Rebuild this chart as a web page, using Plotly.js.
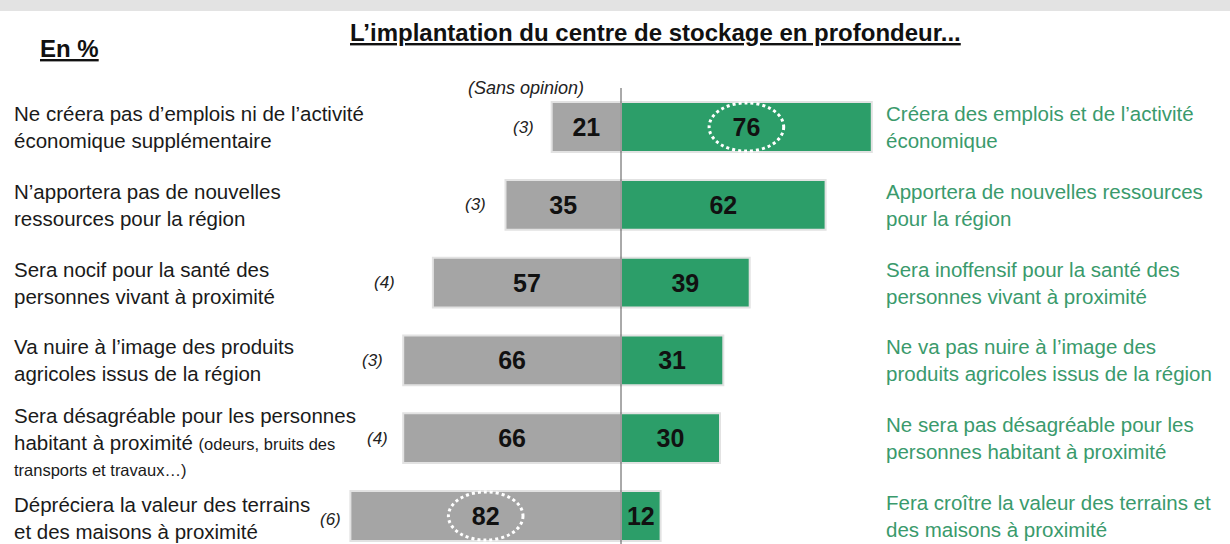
<!DOCTYPE html>
<html>
<head>
<meta charset="utf-8">
<script src="https://cdn.plot.ly/plotly-3.0.1.min.js"></script>
<style>html,body{margin:0;padding:0;background:#fff;}#chart{width:1230px;height:544px;}</style>
</head>
<body>
<div id="chart"></div>
<script>
// ---- Data ----
const negLabels = [
  "Ne créera pas d’emplois ni de l’activité<br>économique supplémentaire",
  "N’apportera pas de nouvelles<br>ressources pour la région",
  "Sera nocif pour la santé des<br>personnes vivant à proximité",
  "Va nuire à l’image des produits<br>agricoles issus de la région",
  "Sera désagréable pour les personnes<br>habitant à proximité <span style='font-size:16.5px'>(odeurs, bruits des</span><br><span style='font-size:16.5px'>transports et travaux…)</span>",
  "Dépréciera la valeur des terrains<br>et des maisons à proximité"
];
const posLabels = [
  "Créera des emplois et de l’activité<br>économique",
  "Apportera de nouvelles ressources<br>pour la région",
  "Sera inoffensif pour la santé des<br>personnes vivant à proximité",
  "Ne va pas nuire à l’image des<br>produits agricoles issus de la région",
  "Ne sera pas désagréable pour les<br>personnes habitant à proximité",
  "Fera croître la valeur des terrains et<br>des maisons à proximité"
];
const negValues = [21, 35, 57, 66, 66, 82];
const posValues = [76, 62, 39, 31, 30, 12];
const noOpinion = [3, 3, 4, 3, 4, 6];
const highlightPos = [0];   // dotted ellipse on green bar
const highlightNeg = [5];   // dotted ellipse on gray bar

// ---- Layout helpers ----
const rows = negValues.map((_, i) => i);
const FONT = "Liberation Sans, Arial, sans-serif";
const GREEN = "#2c9e69";
const GRAY = "#a5a5a5";
const TXTGREEN = "#3a9a6c";
const sansShift = [-28, -30, -48, -31, -26, -20];

const traces = [
  {
    type: "bar", orientation: "h",
    y: rows, x: negValues.map(v => -v), base: 0,
    width: 0.64,
    marker: {color: GRAY, line: {color: "#e2e2e2", width: 2}},
    text: negValues.map(String), textposition: "inside", insidetextanchor: "middle",
    textangle: 0, constraintext: "none",
    textfont: {family: FONT, size: 25, color: "#111", weight: "bold"},
    hoverinfo: "skip"
  },
  {
    type: "bar", orientation: "h",
    y: rows, x: posValues,
    width: 0.64,
    marker: {color: GREEN, line: {color: "#e2e2e2", width: 2}},
    text: posValues.map(String), textposition: "inside", insidetextanchor: "middle",
    textangle: 0, constraintext: "none",
    textfont: {family: FONT, size: 25, color: "#111", weight: "bold"},
    hoverinfo: "skip"
  }
];

const annotations = [];
rows.forEach(i => {
  annotations.push({
    xref: "paper", yref: "y", x: 12 / 1230, y: i + (i === 4 ? 0.04 : (i === 5 ? 0.03 : 0)),
    xanchor: "left", yanchor: "middle", align: "left", showarrow: false,
    text: negLabels[i], font: {family: FONT, size: 20.5, color: "#1a1a1a"}
  });
  annotations.push({
    xref: "paper", yref: "y", x: 884 / 1230, y: i,
    xanchor: "left", yanchor: "middle", align: "left", showarrow: false,
    text: posLabels[i], font: {family: FONT, size: 20.5, color: TXTGREEN}
  });
  annotations.push({
    xref: "x", yref: "y", x: -negValues[i], y: i + (i === 5 ? 0.05 : 0),
    xanchor: "center", yanchor: "middle", xshift: sansShift[i], showarrow: false,
    text: "<i>(" + noOpinion[i] + ")</i>", font: {family: FONT, size: 17, color: "#222"}
  });
});
annotations.push({
  xref: "x", yref: "y", x: 0, y: -0.5, xshift: -95, yshift: 0, xanchor: "center", yanchor: "middle",
  showarrow: false, text: "<i>(Sans opinion)</i>", font: {family: FONT, size: 18, color: "#222"}
});
annotations.push({
  xref: "paper", yref: "paper", x: 655 / 1230, y: 1 - 32 / 544, xanchor: "center", yanchor: "middle",
  showarrow: false, text: "<b><u>L’implantation du centre de stockage en profondeur...</u></b>",
  font: {family: FONT, size: 24, color: "#111"}
});
annotations.push({
  xref: "paper", yref: "paper", x: 38 / 1230, y: 1 - 48 / 544, xanchor: "left", yanchor: "middle",
  showarrow: false, text: "<b><u>En %</u></b>",
  font: {family: FONT, size: 24, color: "#111"}
});

const shapes = [
  {type: "rect", xref: "paper", yref: "paper", x0: 0, x1: 1, y0: 1 - 11 / 544, y1: 1,
   fillcolor: "#e3e3e3", line: {width: 0}, layer: "below"},
  {type: "line", xref: "x", yref: "paper", x0: 0, x1: 0, y0: 0, y1: 1 - 88 / 544,
   line: {color: "#555", width: 1}, layer: "above"}
];
highlightPos.forEach(i => {
  const c = posValues[i] / 2;
  shapes.push({type: "circle", xref: "x", yref: "y", x0: c - 11.3, x1: c + 11.3, y0: i - 0.31, y1: i + 0.31,
    line: {color: "#fff", width: 3, dash: "dot"}, layer: "above"});
});
highlightNeg.forEach(i => {
  const c = -negValues[i] / 2;
  shapes.push({type: "circle", xref: "x", yref: "y", x0: c - 11.3, x1: c + 11.3, y0: i - 0.31, y1: i + 0.31,
    line: {color: "#fff", width: 3, dash: "dot"}, layer: "above"});
});

const PX = 3.3;
const layout = {
  width: 1230, height: 544,
  margin: {l: 0, r: 0, t: 0, b: 0, pad: 0},
  paper_bgcolor: "#fff", plot_bgcolor: "#fff",
  barmode: "overlay",
  showlegend: false,
  xaxis: {range: [-621 / PX, 609 / PX], visible: false, fixedrange: true},
  yaxis: {range: [5 + 28 / 77.8, -127 / 77.8], visible: false, fixedrange: true},
  annotations: annotations,
  shapes: shapes
};

Plotly.newPlot("chart", traces, layout, {displayModeBar: false, staticPlot: true});
</script>
</body>
</html>
